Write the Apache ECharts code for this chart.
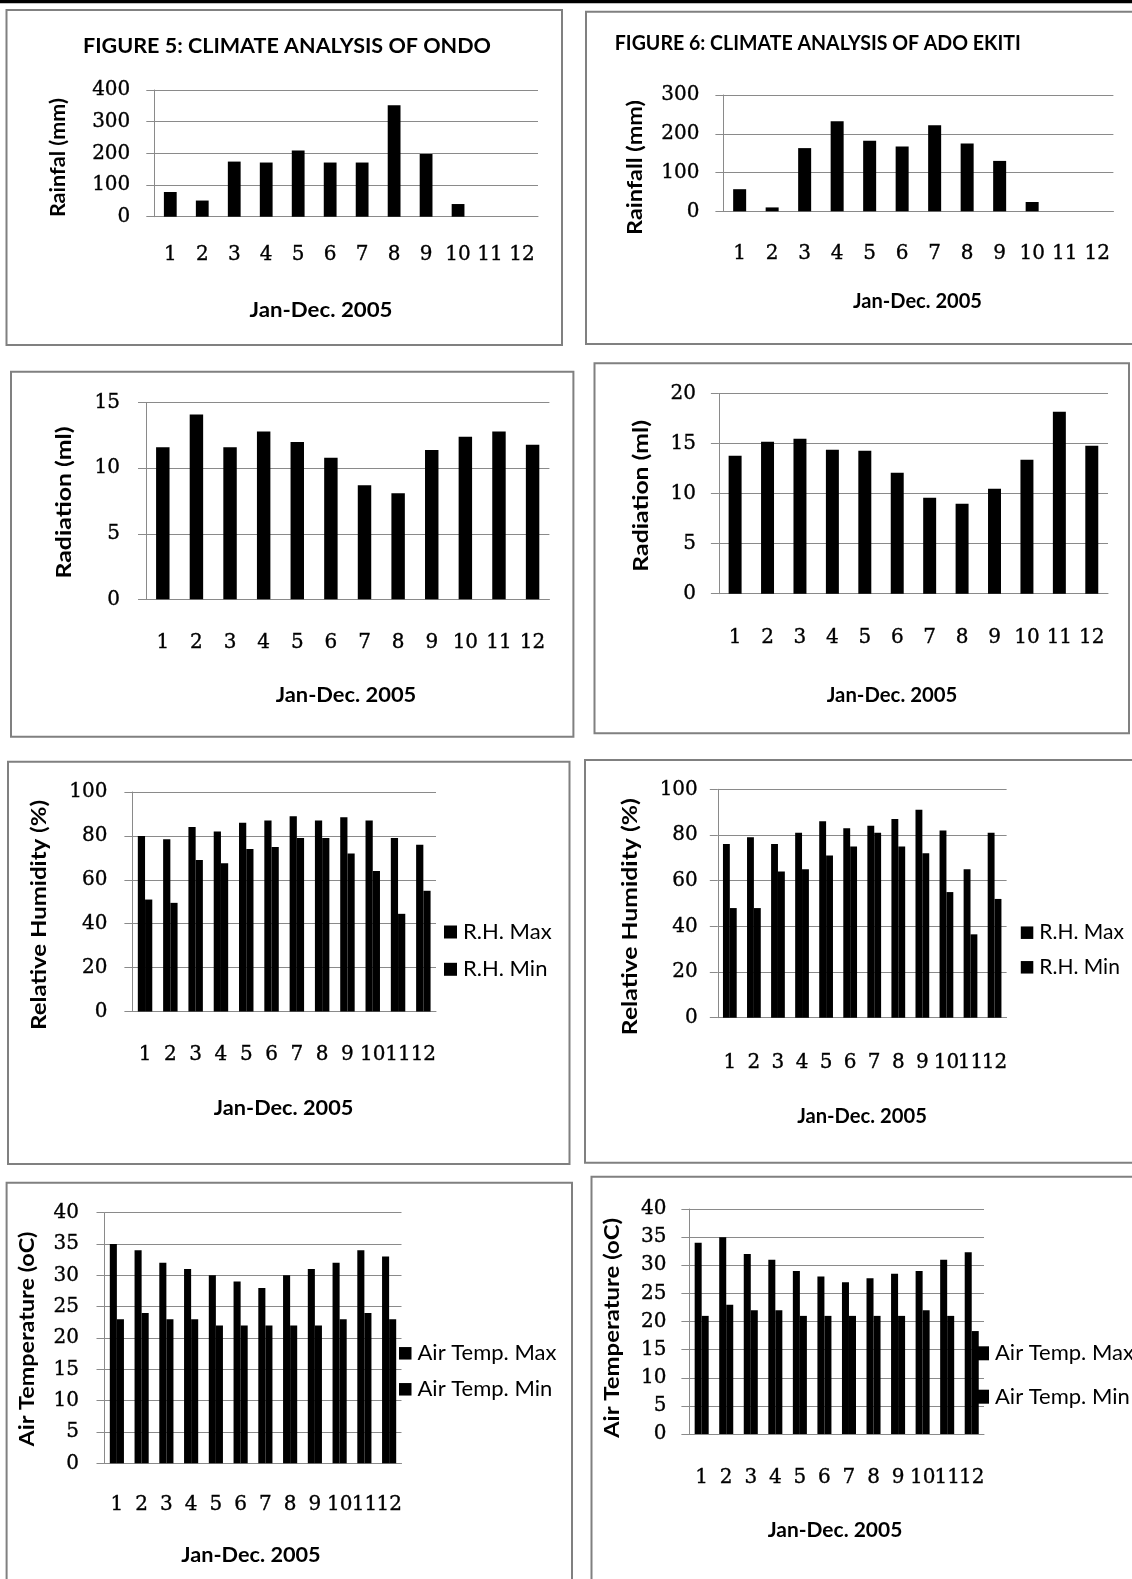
<!DOCTYPE html>
<html><head><meta charset="utf-8">
<script src="https://cdn.jsdelivr.net/npm/echarts@6/dist/echarts.min.js"></script>
<style>html,body{margin:0;padding:0;background:#fff}#c{width:1132px;height:1579px}</style>
</head><body><div id="c"></div>
<script>
// ---------------- DATA ----------------
const months = ['1','2','3','4','5','6','7','8','9','10','11','12'];
const ondoRainfall = [78, 51, 174, 171, 209, 171, 171, 352, 198, 40, 0, 0];
const adoRainfall  = [57, 10, 163, 232, 182, 167, 222, 175, 130, 24, 0, 0];
const ondoRadiation = [11.6, 14.1, 11.6, 12.8, 12.0, 10.8, 8.7, 8.1, 11.4, 12.4, 12.8, 11.8];
const adoRadiation  = [13.8, 15.2, 15.5, 14.4, 14.3, 12.1, 9.6, 9.0, 10.5, 13.4, 18.2, 14.8];
const ondoRHMax = [80, 78.5, 84, 82, 86, 87, 89, 87, 88.5, 87, 79, 76];
const ondoRHMin = [51, 49.5, 69, 67.5, 74, 75, 79, 79, 72, 64, 44.5, 55];
const adoRHMax  = [76, 79, 76, 81, 86, 83, 84, 87, 91, 82, 65, 81];
const adoRHMin  = [48, 48, 64, 65, 71, 75, 81, 75, 72, 55, 36.5, 52];
const ondoTMax = [35, 34, 32, 31, 30, 29, 28, 30, 31, 32, 34, 33];
const ondoTMin = [23, 24, 23, 23, 22, 22, 22, 22, 22, 23, 24, 23];
const adoTMax  = [34, 35, 32, 31, 29, 28, 27, 27.7, 28.5, 29, 31, 32.3];
const adoTMin  = [21, 23, 22, 22, 21, 21, 21, 21, 21, 22, 21, 18.3];
const rhNames = ['R.H. Max', 'R.H. Min'];
const tNames = ['Air Temp. Max', 'Air Temp. Min'];
const xTitle = 'Jan-Dec. 2005';

// ---------------- LAYOUT ----------------
const GRAY = '#8a8a8a';
const FRAME = '#808080';
const SANS = 'Lato';
const SERIF = 'DejaVu Serif';

const mctx = document.createElement('canvas').getContext('2d');
function widthOf(text, weight, size) {
  mctx.font = weight + ' ' + size + 'px ' + SANS;
  return mctx.measureText(text).width;
}
function fit(text, weight, target) {
  return Math.round(1000 * target / widthOf(text, weight, 100)) / 10;
}
// bold sans text of a given size, stretched/condensed along its baseline to a target length
function sansText(text, x, y, size, target, opts) {
  const s = target / widthOf(text, 'bold', size);
  return Object.assign({type:'text', x, y, scaleX:s, scaleY:1, silent:true,
    style:{text, align:'center', verticalAlign:'middle', fill:'#000',
      font:'bold ' + size + 'px ' + SANS}}, opts || {});
}

const panels = [
  {box:[154.3, 90, 538, 216.7], max:400, step:100, xm:28, ym:24,
   series:[['Rainfall', ondoRainfall]], yt:['Rainfal (mm)', 58, 157.6, 119], xt:[321, 310, 143],
   frame:[6.5, 10, 562, 345]},
  {box:[723.4, 95, 1113.4, 211.3], max:300, step:100, xm:32, ym:24,
   series:[['Rainfall ', adoRainfall]], yt:['Rainfall (mm)', 635, 167.5, 135], xt:[917.5, 301.7, 129],
   frame:[586, 11.7, 1140, 344]},
  {box:[146, 402.7, 549.4, 599.3], max:15, step:5, xm:33, ym:26,
   series:[['Radiation', ondoRadiation]], yt:['Radiation (ml)', 64, 502.5, 152], xt:[346, 695, 140.6],
   frame:[11, 371.7, 573.4, 736.7]},
  {box:[718.9, 393.7, 1108, 593.7], max:20, step:5, xm:34, ym:23,
   series:[['Radiation ', adoRadiation]], yt:['Radiation (ml)', 641.6, 495.8, 151.7], xt:[892, 695, 130.5],
   frame:[594.5, 363.3, 1129, 733.3]},
  {box:[132.4, 792, 436, 1011.5], max:100, step:20, xm:33, ym:25,
   series:[[rhNames[0], ondoRHMax], [rhNames[1], ondoRHMin]], yt:['Relative Humidity (%)', 39, 915, 230], xt:[283.6, 1108.3, 139.5],
   frame:[8, 761.7, 569.5, 1164],
   legend:{left:444, top:921, gap:15.3, icon:13, names:rhNames, w:87}},
  {box:[717.8, 789.3, 1006.6, 1017.7], max:100, step:20, xm:35, ym:20,
   series:[[rhNames[0], adoRHMax], [rhNames[1], adoRHMin]], yt:['Relative Humidity (%)', 630, 916.7, 237], xt:[862, 1116.7, 129.7],
   frame:[585, 760, 1140, 1162.7],
   legend:{left:1020.8, top:921.7, gap:12.6, icon:12.5, names:rhNames, w:85}},
  {box:[104.5, 1212.7, 401.5, 1463.3], max:40, step:5, xm:31, ym:25.5,
   series:[[tNames[0], ondoTMax], [tNames[1], ondoTMin]], yt:['Air Temperature (oC)', 27.5, 1339, 215], xt:[251, 1555, 139.4],
   frame:[6.6, 1182.7, 572, 1595],
   legend:{left:399, top:1342.3, gap:14, icon:12.5, names:tNames, w:141}},
  {box:[689.4, 1209, 984, 1434], max:40, step:5, xm:34, ym:23,
   series:[[tNames[0], adoTMax], [tNames[1], adoTMin]], yt:['Air Temperature (oC)', 612, 1328, 220], xt:[835, 1530, 134.6],
   frame:[591.5, 1176.7, 1140, 1595],
   legend:{left:975, top:1342.3, gap:21.4, icon:14, names:tNames, w:141}}
];

const grids = [], xAxes = [], yAxes = [], series = [], legends = [], graphics = [];

graphics.push({type:'rect', shape:{x:0, y:0, width:1132, height:3.3}, style:{fill:'#000'}, silent:true});

const tickLabel = {fontFamily:SERIF, fontSize:20, color:'#000', textBorderColor:'#000', textBorderWidth:0.35};

panels.forEach((p, i) => {
  const [l, t, r, b] = p.box;
  grids.push({left:l, top:t, width:r - l, height:b - t, containLabel:false, outerBoundsMode:'none'});
  xAxes.push({type:'category', gridIndex:i, data:months,
    axisLine:{show:true, lineStyle:{color:GRAY, width:1}},
    axisTick:{show:false},
    axisLabel:Object.assign({interval:0, hideOverlap:false, margin:p.xm}, tickLabel),
    splitLine:{show:false}});
  yAxes.push({type:'value', gridIndex:i, min:0, max:p.max, interval:p.step,
    axisLine:{show:true, lineStyle:{color:GRAY, width:1}},
    axisTick:{show:true, inside:false, length:8, lineStyle:{color:GRAY, width:1}},
    axisLabel:Object.assign({margin:p.ym}, tickLabel),
    splitLine:{show:true, lineStyle:{color:GRAY, width:1}}});
  const single = p.series.length === 1;
  p.series.forEach(([name, data]) => {
    series.push({type:'bar', name, xAxisIndex:i, yAxisIndex:i, data,
      itemStyle:{color:'#000'}, barGap:'0%', barCategoryGap: single ? '60%' : '42.86%',
      silent:true, emphasis:{disabled:true}});
  });
  if (p.legend) {
    const lg = p.legend;
    legends.push({show:true, orient:'vertical', left:lg.left, top:lg.top, itemGap:lg.gap,
      itemWidth:lg.icon, itemHeight:lg.icon, icon:'rect', padding:0, selectedMode:false,
      data:lg.names, textStyle:{fontFamily:SANS, fontSize:Math.round(100 * lg.w / widthOf(lg.names[0], 'normal', 100)),
        color:'#000', lineHeight:22, padding:[0,0,0,1]}});
  }
  const f = p.frame;
  graphics.push({type:'rect', shape:{x:f[0], y:f[1], width:f[2]-f[0], height:f[3]-f[1]},
    style:{fill:'none', stroke:FRAME, lineWidth:2}, silent:true});
  graphics.push(sansText(p.yt[0], p.yt[1], p.yt[2], 21, p.yt[3], {rotation:Math.PI/2}));
  graphics.push(sansText(xTitle, p.xt[0], p.xt[1], 21, p.xt[2]));
});

const t1 = 'FIGURE 5: CLIMATE ANALYSIS OF ONDO';
const t2 = 'FIGURE 6: CLIMATE ANALYSIS OF ADO EKITI';
graphics.push(sansText(t1, 287, 46, 21, 408));
const t2w = 406;
graphics.push(sansText(t2, 614.8 + t2w / 2, 43.3, 21, t2w));

const chart = echarts.init(document.getElementById('c'), null, {renderer:'canvas'});
chart.setOption({
  animation:false,
  backgroundColor:'#fff',
  tooltip:{show:false},
  grid:grids, xAxis:xAxes, yAxis:yAxes, series, legend:legends,
  graphic:{elements:graphics}
});
</script></body></html>
